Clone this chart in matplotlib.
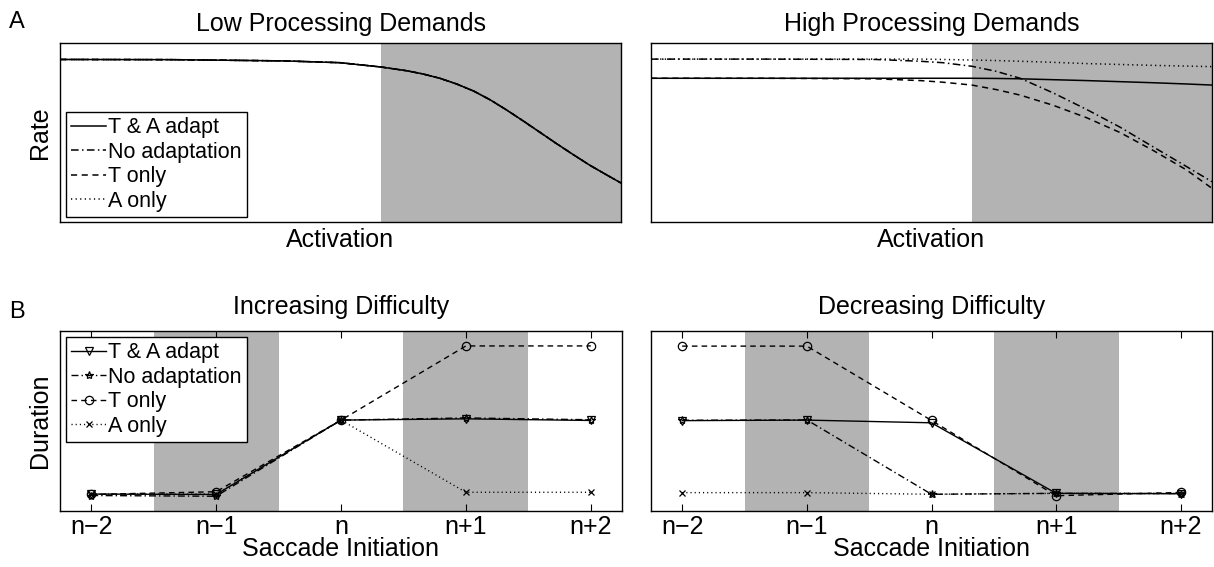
import matplotlib
matplotlib.use("Agg")
import matplotlib.pyplot as plt

plt.rcParams['font.family'] = ['Liberation Sans', 'DejaVu Sans']

# --- A: rate vs activation (curves read as points along the activation axis)
act_low = [0.0, 0.2, 0.4, 0.499, 0.572, 0.618, 0.647, 0.677, 0.707, 0.737,
           0.766, 0.796, 0.826, 0.856, 0.885, 0.915, 0.945, 0.975, 1.0]
rate_low = [0.908, 0.907, 0.900, 0.890, 0.866, 0.845, 0.827, 0.803, 0.771, 0.732,
            0.684, 0.626, 0.564, 0.500, 0.438, 0.376, 0.316, 0.262, 0.218]

act_high = [0.0, 0.2, 0.4, 0.48, 0.52, 0.572, 0.615, 0.658, 0.717, 0.777,
            0.836, 0.895, 0.955, 1.0]
rate_high_ta = [0.803, 0.803, 0.803, 0.803, 0.803, 0.803, 0.802, 0.800, 0.795, 0.790,
                0.784, 0.778, 0.771, 0.765]
rate_high_none = [0.910, 0.910, 0.908, 0.898, 0.890, 0.870, 0.842, 0.803, 0.721, 0.628,
                  0.530, 0.420, 0.309, 0.225]
rate_high_t = [0.803, 0.803, 0.800, 0.790, 0.781, 0.765, 0.740, 0.709, 0.652, 0.582,
               0.500, 0.400, 0.290, 0.188]
rate_high_a = [0.910, 0.910, 0.910, 0.910, 0.908, 0.905, 0.902, 0.898, 0.892, 0.885,
               0.880, 0.875, 0.871, 0.868]

# --- B: fixation duration around the difficulty switch
saccades = ['n\u22122', 'n\u22121', 'n', 'n+1', 'n+2']
inc_ta = [0.094, 0.092, 0.505, 0.512, 0.503]
inc_none = [0.086, 0.082, 0.505, 0.517, 0.507]
inc_t = [0.092, 0.107, 0.505, 0.917, 0.917]
inc_a = [0.094, 0.094, 0.505, 0.104, 0.104]

dec_ta = [0.502, 0.505, 0.490, 0.098, 0.096]
dec_none = [0.504, 0.506, 0.093, 0.098, 0.097]
dec_t = [0.916, 0.916, 0.503, 0.085, 0.103]
dec_a = [0.102, 0.102, 0.093, 0.098, 0.097]

names = ['T & A adapt', 'No adaptation', 'T only', 'A only']
styles = ['-', (0, (5, 2.2, 1, 2.2)), (0, (4, 3)), (0, (0.8, 2.2))]
markers = ['v', '*', 'o', 'x']
msizes = [6, 6, 6, 4.5]
shade = '#b3b3b3'
FS = 18

fig = plt.figure(figsize=(12.14, 5.67), dpi=100)
W, H = 1214, 567


def box(x0, y0, x1, y1):
    return [x0 / W, 1 - y1 / H, (x1 - x0) / W, (y1 - y0) / H]


def matlab_look(ax):
    for s in ax.spines.values():
        s.set_linewidth(1.0)
    ax.tick_params(direction='in', top=True, length=5, width=0.8,
                   labelsize=FS, pad=3)
    ax.set_yticks([])


def add_legend(ax, handles, loc, anchor):
    leg = ax.legend(handles, names, loc=loc, bbox_to_anchor=anchor,
                    fontsize=15.5, handlelength=1.6, handletextpad=0.1,
                    borderpad=0.25, labelspacing=0.16, borderaxespad=0,
                    fancybox=False, framealpha=1, edgecolor='k', numpoints=1)
    leg.get_frame().set_linewidth(1.0)


ax1 = fig.add_axes(box(60, 43, 621, 222))
ax2 = fig.add_axes(box(651, 43, 1212, 222))
ax3 = fig.add_axes(box(60, 331, 622, 511))
ax4 = fig.add_axes(box(651, 331, 1212, 511))

# top row
for ax in (ax1, ax2):
    ax.axvspan(0.572, 1.0, color=shade, lw=0, zorder=0)
    ax.set_xlim(0, 1)
    ax.set_ylim(0, 1)
    matlab_look(ax)
    ax.set_xticks([])
    ax.set_xlabel('Activation', fontsize=FS, labelpad=4.5)

lines = []
for ls in styles:
    ln, = ax1.plot(act_low, rate_low, linestyle=ls, color='k', lw=1.1)
    lines.append(ln)
ax1.set_ylabel('Rate', fontsize=FS, labelpad=6)
ax1.set_title('Low Processing Demands', fontsize=FS, pad=9)

high = [rate_high_ta, rate_high_none, rate_high_t, rate_high_a]
for ys, ls in zip(high, styles):
    ax2.plot(act_high, ys, linestyle=ls, color='k', lw=1.1)
ax2.set_title('High Processing Demands', fontsize=FS, pad=9)

add_legend(ax1, lines, 'lower left', (0.0107, 0.028))

# bottom row
x = list(range(len(saccades)))
for ax in (ax3, ax4):
    ax.axvspan(0.5, 1.5, color=shade, lw=0, zorder=0)
    ax.axvspan(2.5, 3.5, color=shade, lw=0, zorder=0)
    ax.set_xlim(-0.25, 4.25)
    ax.set_ylim(0, 1)
    matlab_look(ax)
    ax.set_xticks(x)
    ax.set_xticklabels(saccades)
    ax.set_xlabel('Saccade Initiation', fontsize=FS, labelpad=-1.5)

inc = [inc_ta, inc_none, inc_t, inc_a]
dec = [dec_ta, dec_none, dec_t, dec_a]
for ax, series in ((ax3, inc), (ax4, dec)):
    marked = []
    for ys, ls, mk, ms in zip(series, styles, markers, msizes):
        ln, = ax.plot(x, ys, linestyle=ls, color='k', lw=1.0, marker=mk,
                      ms=ms, mfc='none', mec='k', mew=0.9)
        marked.append(ln)
    if ax is ax3:
        add_legend(ax, marked, 'upper left', (0.0107, 0.967))

ax3.set_ylabel('Duration', fontsize=FS, labelpad=6)
ax3.set_title('Increasing Difficulty', fontsize=FS, pad=12)
ax4.set_title('Decreasing Difficulty', fontsize=FS, pad=12)

fig.text(9 / W, 1 - 28 / H, 'A', fontsize=17, va='baseline')
fig.text(9 / W, 1 - 318 / H, 'B', fontsize=17, va='baseline')

fig.savefig('out.png', dpi=100)
